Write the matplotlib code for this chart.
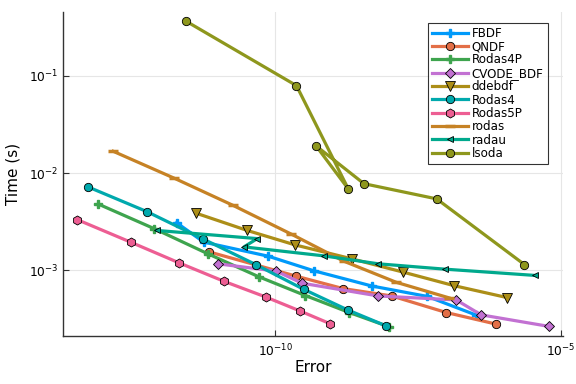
import numpy as np
import matplotlib
matplotlib.use("Agg")
import matplotlib.pyplot as plt
from matplotlib.ticker import LogFormatterSciNotation, NullLocator

# log10 values
fbdf_err = [-11.725, -11.249, -10.120, -9.328, -8.310, -7.341, -6.498]
fbdf_t = [-2.510, -2.709, -2.854, -3.003, -3.160, -3.267, -3.456]

qndf_err = [-11.157, -9.638, -8.815, -7.965, -7.010, -6.139]
qndf_t = [-2.809, -3.058, -3.186, -3.262, -3.432, -3.551]

rodas4p_err = [-13.091, -12.115, -11.174, -10.291, -9.472, -8.706, -8.009]
rodas4p_t = [-2.319, -2.571, -2.830, -3.064, -3.258, -3.432, -3.579]

cvode_err = [-11.0, -9.983, -9.530, -8.200, -6.836, -6.401, -5.221]
cvode_t = [-2.932, -3.007, -3.131, -3.262, -3.303, -3.456, -3.574]

ddebdf_err = [-11.389, -10.491, -9.652, -8.659, -7.765, -6.876, -5.944]
ddebdf_t = [-2.411, -2.589, -2.738, -2.881, -3.017, -3.156, -3.279]

rodas4_err = [-13.282, -12.247, -11.261, -10.343, -9.502, -8.735, -8.056]
rodas4_t = [-2.140, -2.395, -2.677, -2.939, -3.194, -3.405, -3.571]

rodas5p_err = [-13.467, -12.521, -11.685, -10.895, -10.169, -9.559, -9.037]
rodas5p_t = [-2.477, -2.711, -2.921, -3.112, -3.272, -3.418, -3.548]

rodas_err = [-12.834, -11.772, -10.744, -9.716, -8.801, -7.883, -6.963]
rodas_t = [-1.776, -2.051, -2.330, -2.628, -2.905, -3.122, -3.281]

radau_err = [-12.073, -10.314, -10.547, -9.153, -8.195, -7.028, -5.462]
radau_t = [-2.589, -2.673, -2.758, -2.850, -2.932, -2.987, -3.051]

lsoda_err = [-11.563, -9.629, -8.723, -9.286, -8.449, -7.178, -5.645]
lsoda_t = [-0.439, -1.102, -2.163, -1.721, -2.109, -2.265, -2.939]

names = ["FBDF", "QNDF", "Rodas4P", "CVODE_BDF", "ddebdf", "Rodas4",
         "Rodas5P", "rodas", "radau", "lsoda"]
series = [(fbdf_err, fbdf_t), (qndf_err, qndf_t), (rodas4p_err, rodas4p_t),
          (cvode_err, cvode_t), (ddebdf_err, ddebdf_t), (rodas4_err, rodas4_t),
          (rodas5p_err, rodas5p_t), (rodas_err, rodas_t), (radau_err, radau_t),
          (lsoda_err, lsoda_t)]
colors = ["#009AFA", "#E36F47", "#3EA44E", "#C271D2", "#AC8E18", "#00A9AD",
          "#ED5E93", "#C68225", "#00A98D", "#8E971D"]
markers = ["P", "o", "P", "D", "v", "o", "h", "_", "<", "o"]
msizes = [6, 6, 6, 5, 7, 6, 6.5, 7, 5, 6]

plt.rcParams['font.family'] = ['DejaVu Sans']
fig = plt.figure(figsize=(5.76, 3.84), dpi=100)
ax = fig.add_axes([0.109, 0.125, 0.868, 0.844])

for name, (e, t), c, m, ms in zip(names, series, colors, markers, msizes):
    x = 10.0 ** np.array(e)
    y = 10.0 ** np.array(t)
    if m in ("P", "_"):
        ax.plot(x, y, color=c, lw=2.3, marker=m, ms=ms, mfc=c, mec=c,
                mew=1.0 if m == "P" else 2.5, label=name)
    else:
        ax.plot(x, y, color=c, lw=2.3, marker=m, ms=ms, mfc=c, mec="black",
                mew=0.6, label=name)

ax.set_xscale("log")
ax.set_yscale("log")

allx = np.concatenate([np.array(e) for e, _ in series])
ally = np.concatenate([np.array(t) for _, t in series])
xr = allx.max() - allx.min()
yr = ally.max() - ally.min()
ax.set_xlim(10 ** (allx.min() - 0.03 * xr), 10 ** (allx.max() + 0.03 * xr))
ax.set_ylim(10 ** (ally.min() - 0.03 * yr), 10 ** (ally.max() + 0.03 * yr))

ax.set_xticks([1e-10, 1e-5])
ax.set_yticks([1e-3, 1e-2, 1e-1])
ax.xaxis.set_major_formatter(LogFormatterSciNotation())
ax.yaxis.set_major_formatter(LogFormatterSciNotation())
ax.xaxis.set_minor_locator(NullLocator())
ax.yaxis.set_minor_locator(NullLocator())

ax.grid(True, color="#e6e6e6", lw=0.8)
ax.set_axisbelow(True)
for s in ("top", "right"):
    ax.spines[s].set_visible(False)
for s in ("left", "bottom"):
    ax.spines[s].set_color("#333333")
    ax.spines[s].set_linewidth(1.0)
ax.tick_params(direction="in", length=4, width=0.8, labelsize=8.8, color="#333333")
ax.tick_params(axis="x", pad=5)
ax.tick_params(axis="y", pad=3)

ax.set_xlabel("Error", fontsize=11)
ax.set_ylabel("Time (s)", fontsize=11)
ax.xaxis.set_label_coords(0.5, -0.075)
ax.yaxis.set_label_coords(-0.085, 0.5)

leg = ax.legend(loc="upper right", bbox_to_anchor=(0.97, 0.967), fontsize=8.6,
                frameon=True, fancybox=False, edgecolor="black",
                handlelength=3.0, handletextpad=0.3, labelspacing=0.03,
                borderpad=0.35, borderaxespad=0.0)
leg.get_frame().set_linewidth(0.8)

fig.savefig("out.png", dpi=100)
